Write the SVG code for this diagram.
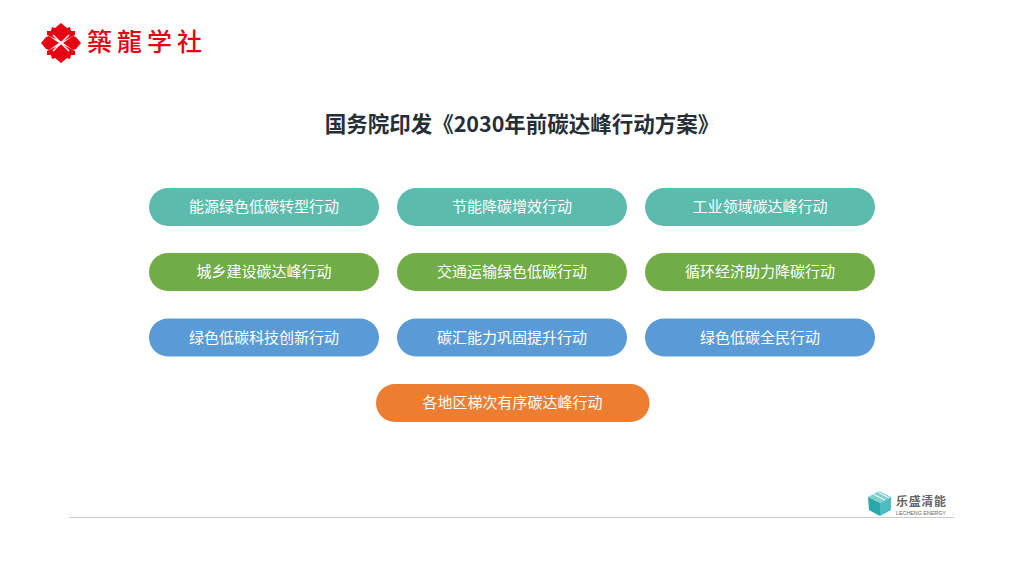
<svg xmlns="http://www.w3.org/2000/svg" width="1024" height="576" viewBox="0 0 1024 576">
<style>
text{font-family:"Noto Sans CJK SC","Noto Sans",sans-serif}
.l{font-size:15px;fill:#fff;text-anchor:middle}
.t{fill:#5bbcae}.g{fill:#70ad47}.b{fill:#5b9bd5}.o{fill:#ed7d31}
.p{fill:#e60012}
.s{stroke:#fff;stroke-width:1.500;fill:none}
</style>
<rect width="1024" height="576" fill="#fff"/>
<g id="logo">
<path class="p" d="M61 23 L67 28 L70 27 L71 31 L75 31 L75 35 L62 42 L47 35 L47 31 L51 31 L52 27 L55 28Z"/>
<path class="p" d="M61 63 L67 58 L70 59 L71 55 L75 55 L75 51 L62 44 L47 51 L47 55 L51 55 L52 59 L55 58Z"/>
<path class="p" d="M41 43 L46 37 L49 36 L59 43 L49 50 L46 49Z"/>
<path class="p" d="M81 43 L76 37 L73 36 L63 43 L73 50 L76 49Z"/>
<path class="s" d="M53 35 L69 51 M69 35 L53 51"/>
<text x="87 117 147 177" y="51" font-size="25" fill="#e60012" font-weight="500" style="font-family:'Noto Sans CJK TC',serif">築龍学社</text>
</g>
<g id="title"><text x="522" y="131.500" font-size="21.500" font-weight="700" fill="#262f38" text-anchor="middle">国务院印发《2030年前碳达峰行动方案》</text></g>
<g id="n1"><rect class="t" x="149" y="188" width="230" height="38" rx="19"/><text class="l" x="264" y="212">能源绿色低碳转型行动</text></g>
<g id="n2"><rect class="t" x="397" y="188" width="230" height="38" rx="19"/><text class="l" x="512" y="212">节能降碳增效行动</text></g>
<g id="n3"><rect class="t" x="645" y="188" width="230" height="38" rx="19"/><text class="l" x="760" y="212">工业领域碳达峰行动</text></g>
<g id="n4"><rect class="g" x="149" y="253" width="230" height="38" rx="19"/><text class="l" x="264" y="277">城乡建设碳达峰行动</text></g>
<g id="n5"><rect class="g" x="397" y="253" width="230" height="38" rx="19"/><text class="l" x="512" y="277">交通运输绿色低碳行动</text></g>
<g id="n6"><rect class="g" x="645" y="253" width="230" height="38" rx="19"/><text class="l" x="760" y="277">循环经济助力降碳行动</text></g>
<g id="n7"><rect class="b" x="149" y="318.500" width="230" height="38" rx="19"/><text class="l" x="264" y="342.500">绿色低碳科技创新行动</text></g>
<g id="n8"><rect class="b" x="397" y="318.500" width="230" height="38" rx="19"/><text class="l" x="512" y="342.500">碳汇能力巩固提升行动</text></g>
<g id="n9"><rect class="b" x="645" y="318.500" width="230" height="38" rx="19"/><text class="l" x="760" y="342.500">绿色低碳全民行动</text></g>
<g id="n10"><rect class="o" x="376" y="384" width="273.500" height="38" rx="19"/><text class="l" x="512.500" y="408">各地区梯次有序碳达峰行动</text></g>
<g id="brand">
<path d="M868 497 L879 491 L891 497 L880 503Z" fill="#7fd0cf"/>
<path d="M868 497 L880 503 V516 L869 510Z" fill="#2aa7a8"/>
<path d="M880 503 L891 497 V510 L880 516Z" fill="#4cbcc0"/>
<path d="M873 494 L885 500 M878 492 L889 498" stroke="#fff" stroke-width="1" fill="none"/>
<text x="896" y="506" font-size="12" font-weight="700" fill="#666" textLength="50">乐盛清能</text>
<text x="896" y="515" font-size="5.500" fill="#666" textLength="50" style="font-family:'Liberation Sans',sans-serif">LECHENG ENERGY</text>
</g>
<line x1="69" y1="517.500" x2="954" y2="517.500" stroke="#c8cacc" stroke-width="1"/>
</svg>
